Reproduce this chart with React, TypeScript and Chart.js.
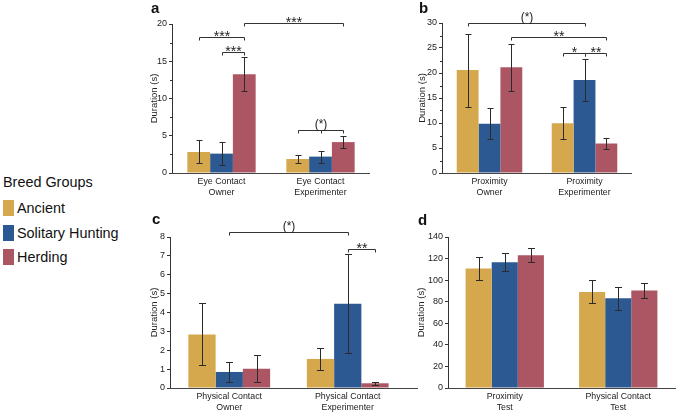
import React, { useEffect, useRef } from 'react';
import { Chart, registerables } from 'chart.js';

Chart.register(...registerables);

const FONT = '"Liberation Sans", Arial, Helvetica, sans-serif';

// ---- shared ----
const breedGroups = ['Ancient', 'Solitary Hunting', 'Herding'];
const breedColors = ['#D6A84D', '#2D5993', '#AD5663'];

// ---- panel a: eye contact ----
const eyeLabels = [['Eye Contact', 'Owner'], ['Eye Contact', 'Experimenter']];
const eyeAncient = [2.82, 1.88];
const eyeAncientLow = [1.3, 1.3];
const eyeAncientHigh = [4.4, 2.42];
const eyeSolitary = [2.6, 2.2];
const eyeSolitaryLow = [1.08, 1.4];
const eyeSolitaryHigh = [4.15, 2.92];
const eyeHerding = [13.25, 4.15];
const eyeHerdingLow = [11.0, 3.35];
const eyeHerdingHigh = [15.55, 4.98];
const eyeTicks = { max: 20, step: 5 };

// ---- panel b: proximity ----
const proxLabels = [['Proximity', 'Owner'], ['Proximity', 'Experimenter']];
const proxAncient = [20.6, 9.95];
const proxAncientLow = [13.3, 6.9];
const proxAncientHigh = [27.9, 13.15];
const proxSolitary = [9.85, 18.6];
const proxSolitaryLow = [6.8, 14.4];
const proxSolitaryHigh = [13.1, 22.8];
const proxHerding = [21.15, 5.9];
const proxHerdingLow = [16.5, 4.85];
const proxHerdingHigh = [25.9, 7.05];
const proxTicks = { max: 30, step: 5 };

// ---- panel c: physical contact ----
const contactLabels = [['Physical Contact', 'Owner'], ['Physical Contact', 'Experimenter']];
const contactAncient = [2.84, 1.54];
const contactAncientLow = [1.22, 0.95];
const contactAncientHigh = [4.49, 2.14];
const contactSolitary = [0.85, 4.47];
const contactSolitaryLow = [0.32, 1.87];
const contactSolitaryHigh = [1.37, 7.12];
const contactHerding = [1.02, 0.25];
const contactHerdingLow = [0.3, 0.17];
const contactHerdingHigh = [1.75, 0.3];
const contactTicks = { max: 8, step: 1 };

// ---- panel d: total test ----
const testLabels = [['Proximity', 'Test'], ['Physical Contact', 'Test']];
const testAncient = [110.8, 88.9];
const testAncientLow = [99.7, 78.5];
const testAncientHigh = [121.5, 99.7];
const testSolitary = [116.6, 83.1];
const testSolitaryLow = [108.6, 72.3];
const testSolitaryHigh = [125.5, 93.8];
const testHerding = [123.1, 90.5];
const testHerdingLow = [116.6, 83.7];
const testHerdingHigh = [129.8, 97.5];
const testTicks = { max: 140, step: 20 };

// significance brackets: [category, group] endpoints, height in seconds
type Bracket = { from: [number, number]; to: [number, number]; y: number; text: string; mid?: [number, number] };
const eyeBrackets: Bracket[] = [
  { from: [0, 0], to: [0, 2], y: 18.25, text: '***' },
  { from: [0, 1], to: [0, 2], y: 16.25, text: '***' },
  { from: [0, 2], to: [1, 2], y: 20.1, text: '***' },
  { from: [1, 0], to: [1, 2], y: 5.8, text: '(*)', mid: [1, 1] },
];
const proxBrackets: Bracket[] = [
  { from: [0, 0], to: [1, 1], y: 30, text: '(*)' },
  { from: [0, 2], to: [1, 2], y: 27.2, text: '**' },
  { from: [1, 0], to: [1, 1], y: 24, text: '*' },
  { from: [1, 1], to: [1, 2], y: 24, text: '**' },
];
const contactBrackets: Bracket[] = [
  { from: [0, 1], to: [1, 1], y: 8.27, text: '(*)' },
  { from: [1, 1], to: [1, 2], y: 7.36, text: '**' },
];
const testBrackets: Bracket[] = [];

type Panel = {
  letter: string;
  labels: string[][];
  means: number[][];
  lows: number[][];
  highs: number[][];
  ticks: { max: number; step: number };
  minor: boolean;
  brackets: Bracket[];
  box: { left: number; top: number; width: number; height: number };
  area: { left: number; top: number; right: number; bottom: number };
  titleX: number;
  extend: number;
  cap: number;
  letterPos: { left: number; top: number };
};

const panels: Panel[] = [
  {
    letter: 'a', labels: eyeLabels,
    means: [eyeAncient, eyeSolitary, eyeHerding],
    lows: [eyeAncientLow, eyeSolitaryLow, eyeHerdingLow],
    highs: [eyeAncientHigh, eyeSolitaryHigh, eyeHerdingHigh],
    ticks: eyeTicks, minor: true, brackets: eyeBrackets,
    box: { left: 140, top: 0, width: 260, height: 205 },
    area: { left: 32, top: 24, right: 230, bottom: 173 },
    titleX: 14, extend: 0, cap: 6, letterPos: { left: 151, top: 0 },
  },
  {
    letter: 'b', labels: proxLabels,
    means: [proxAncient, proxSolitary, proxHerding],
    lows: [proxAncientLow, proxSolitaryLow, proxHerdingLow],
    highs: [proxAncientHigh, proxSolitaryHigh, proxHerdingHigh],
    ticks: proxTicks, minor: true, brackets: proxBrackets,
    box: { left: 400, top: 0, width: 276, height: 205 },
    area: { left: 42, top: 23, right: 232, bottom: 173 },
    titleX: 22, extend: 0, cap: 6, letterPos: { left: 419, top: 0 },
  },
  {
    letter: 'c', labels: contactLabels,
    means: [contactAncient, contactSolitary, contactHerding],
    lows: [contactAncientLow, contactSolitaryLow, contactHerdingLow],
    highs: [contactAncientHigh, contactSolitaryHigh, contactHerdingHigh],
    ticks: contactTicks, minor: false, brackets: contactBrackets,
    box: { left: 140, top: 205, width: 280, height: 208 },
    area: { left: 30, top: 32, right: 267, bottom: 183 },
    titleX: 14, extend: 11, cap: 7, letterPos: { left: 152, top: 211 },
  },
  {
    letter: 'd', labels: testLabels,
    means: [testAncient, testSolitary, testHerding],
    lows: [testAncientLow, testSolitaryLow, testHerdingLow],
    highs: [testAncientHigh, testSolitaryHigh, testHerdingHigh],
    ticks: testTicks, minor: false, brackets: testBrackets,
    box: { left: 400, top: 205, width: 276, height: 208 },
    area: { left: 48, top: 32, right: 275, bottom: 183 },
    titleX: 21, extend: 1, cap: 7, letterPos: { left: 418, top: 212 },
  },
];

function PanelChart({ p }: { p: Panel }) {
  const ref = useRef<HTMLCanvasElement | null>(null);
  useEffect(() => {
    if (!ref.current) return;
    const decor = {
      id: 'decor' + p.letter,
      afterDraw(chart: any) {
        const ctx = chart.ctx as CanvasRenderingContext2D;
        const ca = chart.chartArea;
        const ys = chart.scales.y;
        ctx.save();
        // x axis line
        ctx.strokeStyle = '#444';
        ctx.lineWidth = 1.2;
        ctx.beginPath();
        ctx.moveTo(ca.left - 1, ca.bottom + 0.5);
        ctx.lineTo(ca.right + p.extend, ca.bottom + 0.5);
        ctx.stroke();
        // minor ticks
        if (p.minor) {
          ctx.strokeStyle = '#333';
          ctx.lineWidth = 1;
          for (let v = p.ticks.step / 2; v < p.ticks.max; v += p.ticks.step) {
            const y = Math.round(ys.getPixelForValue(v)) + 0.5;
            ctx.beginPath();
            ctx.moveTo(ca.left - 2, y);
            ctx.lineTo(ca.left, y);
            ctx.stroke();
          }
        }
        // error bars
        ctx.strokeStyle = '#2b2b2b';
        ctx.lineWidth = 1;
        p.means.forEach((_, d) => {
          const meta = chart.getDatasetMeta(d);
          meta.data.forEach((el: any, i: number) => {
            const x = Math.round(el.x) + 0.5;
            const yl = Math.round(ys.getPixelForValue(p.lows[d][i])) + 0.5;
            const yh = Math.round(ys.getPixelForValue(p.highs[d][i])) + 0.5;
            const h = p.cap / 2;
            ctx.beginPath();
            ctx.moveTo(x, yl);
            ctx.lineTo(x, yh);
            ctx.moveTo(x - h, yl);
            ctx.lineTo(x + h, yl);
            ctx.moveTo(x - h, yh);
            ctx.lineTo(x + h, yh);
            ctx.stroke();
          });
        });
        // brackets
        const bx = (c: number, d: number) => Math.round(chart.getDatasetMeta(d).data[c].x) + 0.5;
        ctx.strokeStyle = '#333';
        ctx.fillStyle = '#222';
        ctx.textAlign = 'center';
        ctx.textBaseline = 'alphabetic';
        p.brackets.forEach((b) => {
          const x1 = bx(b.from[0], b.from[1]);
          const x2 = bx(b.to[0], b.to[1]);
          const y = Math.round(ys.getPixelForValue(b.y)) + 0.5;
          ctx.beginPath();
          ctx.moveTo(x1, y + 3);
          ctx.lineTo(x1, y);
          ctx.lineTo(x2, y);
          ctx.lineTo(x2, y + 3);
          if (b.mid) {
            const xm = bx(b.mid[0], b.mid[1]);
            ctx.moveTo(xm, y);
            ctx.lineTo(xm, y + 3);
          }
          ctx.stroke();
          const paren = b.text.indexOf('(') >= 0;
          ctx.font = `${paren ? 12 : 14}px ${FONT}`;
          ctx.fillText(b.text, (x1 + x2) / 2, paren ? y - 3 : y + 3.5);
        });
        // y title
        ctx.translate(p.titleX, (ca.top + ca.bottom) / 2);
        ctx.rotate(-Math.PI / 2);
        ctx.font = `9.5px ${FONT}`;
        ctx.fillStyle = '#222';
        ctx.textAlign = 'center';
        ctx.textBaseline = 'middle';
        ctx.fillText('Duration (s)', 0, 0);
        ctx.restore();
      },
    };

    const chart = new Chart(ref.current, {
      type: 'bar',
      data: {
        labels: p.labels,
        datasets: p.means.map((m, d) => ({
          label: breedGroups[d],
          data: m,
          backgroundColor: breedColors[d],
          borderWidth: 0,
          categoryPercentage: 0.69,
          barPercentage: 1,
        })),
      },
      options: {
        animation: false,
        responsive: false,
        devicePixelRatio: 1,
        events: [],
        layout: {
          padding: { top: p.area.top, right: p.box.width - p.area.right, left: 0, bottom: 0 },
        },
        plugins: { legend: { display: false }, tooltip: { enabled: false } },
        scales: {
          x: {
            offset: true,
            grid: { display: false, drawTicks: false },
            border: { display: false },
            ticks: {
              font: { family: FONT, size: 8.8, lineHeight: 1.25 },
              color: '#222',
              padding: 3,
              maxRotation: 0,
              autoSkip: false,
            },
            afterFit: (s: any) => { s.height = p.box.height - p.area.bottom; },
          },
          y: {
            min: 0,
            max: p.ticks.max,
            ticks: { stepSize: p.ticks.step, font: { family: FONT, size: 9 }, color: '#222', padding: 2 },
            grid: { drawOnChartArea: false, drawTicks: true, tickLength: 3, color: '#333' },
            border: { display: true, color: '#333', width: 1 },
            afterFit: (s: any) => { s.width = p.area.left; },
          },
        },
      },
      plugins: [decor],
    } as any);
    return () => chart.destroy();
  }, [p]);

  return (
    <>
      <canvas
        ref={ref}
        width={p.box.width}
        height={p.box.height}
        style={{ position: 'absolute', left: p.box.left, top: p.box.top, width: p.box.width, height: p.box.height }}
      />
      <div
        style={{
          position: 'absolute', left: p.letterPos.left, top: p.letterPos.top,
          font: `bold 15px ${FONT}`, lineHeight: '15px', color: '#111',
        }}
      >
        {p.letter}
      </div>
    </>
  );
}

export default function App() {
  return (
    <div style={{ position: 'fixed', left: 0, top: 0, width: 676, height: 413, background: '#fff', overflow: 'hidden' }}>
      <div style={{ position: 'absolute', left: 3, top: 174, font: `14.4px ${FONT}`, lineHeight: '16px', color: '#111', whiteSpace: 'nowrap' }}>
        Breed Groups
      </div>
      {breedGroups.map((g, i) => (
        <React.Fragment key={g}>
          <div style={{ position: 'absolute', left: 3, top: 200 + i * 24.5, width: 11, height: 16, background: breedColors[i] }} />
          <div style={{ position: 'absolute', left: 17, top: 200 + i * 24.5, font: `14.4px ${FONT}`, lineHeight: '16px', color: '#111', whiteSpace: 'nowrap' }}>
            {g}
          </div>
        </React.Fragment>
      ))}
      {panels.map((p) => <PanelChart key={p.letter} p={p} />)}
    </div>
  );
}
